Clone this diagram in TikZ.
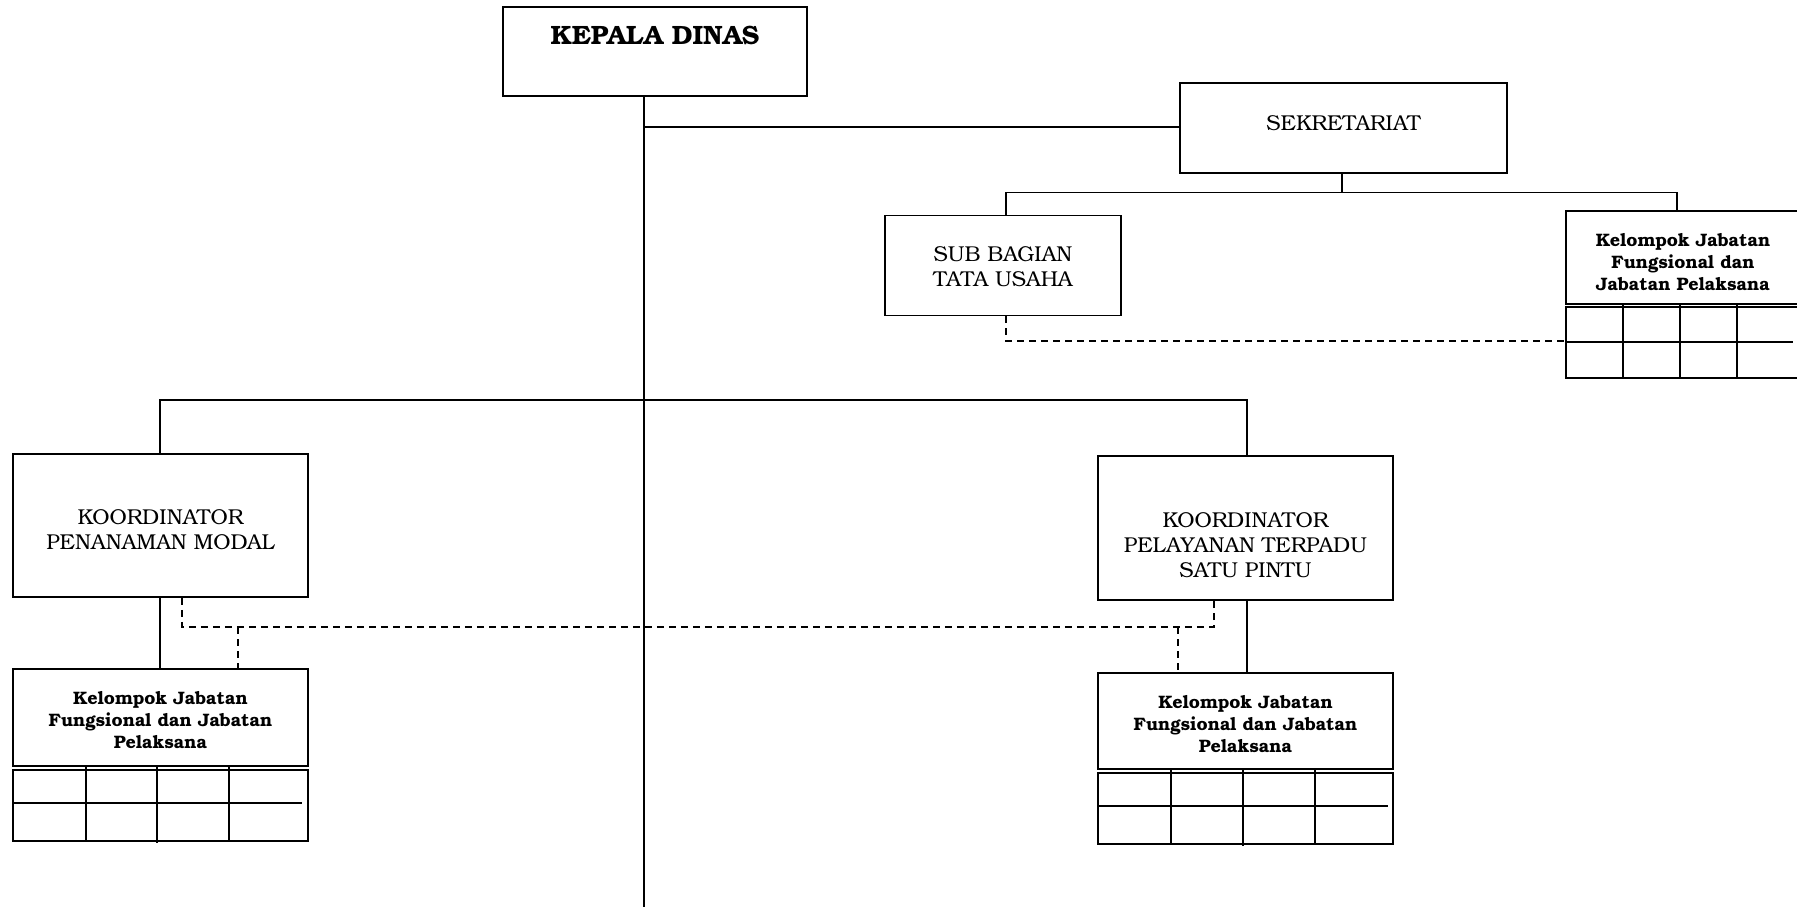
\documentclass[tikz,border=0pt]{standalone}
\usepackage{fontspec}
\setmainfont{texgyrebonum}[Extension=.otf,UprightFont=*-regular,BoldFont=*-bold]
\begin{document}
\begin{tikzpicture}[x=1pt,y=-1pt,
  box/.style={draw,line width=1.6pt,inner sep=0pt},
  reg/.style={font=\fontsize{21.5}{25.2}\selectfont,align=center,inner sep=0pt},
  bigb/.style={font=\fontsize{26.5}{30}\selectfont\bfseries,inner sep=0pt},
  kb/.style={font=\fontsize{18}{22.4}\selectfont\bfseries,align=center,inner sep=0pt},
  ln/.style={line width=1.6pt},
  dl/.style={line width=1.6pt,dashed,dash pattern=on 7pt off 5pt}]
\useasboundingbox (0,0) rectangle (1797,907);
% boxes
\node[box,minimum width=304,minimum height=89] (kd) at (655,51.5) {};
\node[bigb] (kdt) at (655,35) {KEPALA DINAS};
\node[box,minimum width=327,minimum height=90] (sek) at (1343.5,128) {};
\node[reg] (sekt) at (1343.5,123) {SEKRETARIAT};
\node[box,minimum width=236,minimum height=100] (sb) at (1003,265.5) {};
\node[reg] (sbt) at (1003,267) {SUB BAGIAN\\TATA USAHA};
\node[box,minimum width=235,minimum height=93] (k1) at (1683.5,257.5) {};
\node[kb] (k1t) at (1683,262) {Kelompok Jabatan\\Fungsional dan\\Jabatan Pelaksana};
\node[box,minimum width=295,minimum height=143] (kpm) at (160.5,525.5) {};
\node[reg] (kpmt) at (160.5,530) {KOORDINATOR\\PENANAMAN MODAL};
\node[box,minimum width=295,minimum height=97] (k2) at (160.5,717.5) {};
\node[kb] (k2t) at (160.5,720) {Kelompok Jabatan\\Fungsional dan Jabatan\\Pelaksana};
\node[box,minimum width=295,minimum height=144] (kp) at (1245.5,528) {};
\node[reg] (kpt) at (1245.5,545) {KOORDINATOR\\PELAYANAN TERPADU\\SATU PINTU};
\node[box,minimum width=295,minimum height=96] (k3) at (1245.5,721) {};
\node[kb] (k3t) at (1245.5,724) {Kelompok Jabatan\\Fungsional dan Jabatan\\Pelaksana};
% grids
\node[box,minimum width=235,minimum height=71] (g1) at (1683.5,342.5) {};
\draw[ln] (1566,342) -- (1793,342);
\foreach \x in {1623,1680,1737} \draw[ln] (\x,304) -- (\x,378);
\node[box,minimum width=295,minimum height=71] (g2) at (160.5,805.5) {};
\draw[ln] (g2.west |- 0,803) -- (302,803);
\foreach \x in {86,157,229} \draw[ln] (\x,766) -- (\x,841);
\draw[ln] (157,841) -- (157,843);
\node[box,minimum width=295,minimum height=71] (g3) at (1245.5,808.5) {};
\draw[ln] (g3.west |- 0,806) -- (1388,806);
\foreach \x in {1171,1243,1315} \draw[ln] (\x,769) -- (\x,844);
\draw[ln] (1243,844) -- (1243,846);
% connectors
\coordinate (top) at (644,96);
\coordinate (bot) at (644,907);
\draw[ln] (top) -- (bot);
\draw[ln] (644,127) -- (sek.west |- 0,127);
\coordinate (sj) at (1342,192.5);
\draw[ln] (sek.south -| sj) -- (sj);
\draw[ln] (sb.north -| 1006,0) -- (1006,192.5) -- (1677,192.5) -- (k1.north -| 1677,0);
\draw[ln] (kpm.north -| 160,0) -- (160,400) -- (1247,400) -- (kp.north -| 1247,0);
\draw[ln] (kpm.south -| 160,0) -- (k2.north -| 160,0);
\draw[ln] (kp.south -| 1247,0) -- (k3.north -| 1247,0);
\draw[dl] (sb.south -| 1006,0) -- (1006,341) -- (g1.west |- 0,341);
\draw[dl] (kpm.south -| 182,0) -- (182,627) -- (1214,627) -- (kp.south -| 1214,0);
\draw[dl] (238,627) -- (k2.north -| 238,0);
\draw[dl] (1178,627) -- (k3.north -| 1178,0);
\end{tikzpicture}
\end{document}
